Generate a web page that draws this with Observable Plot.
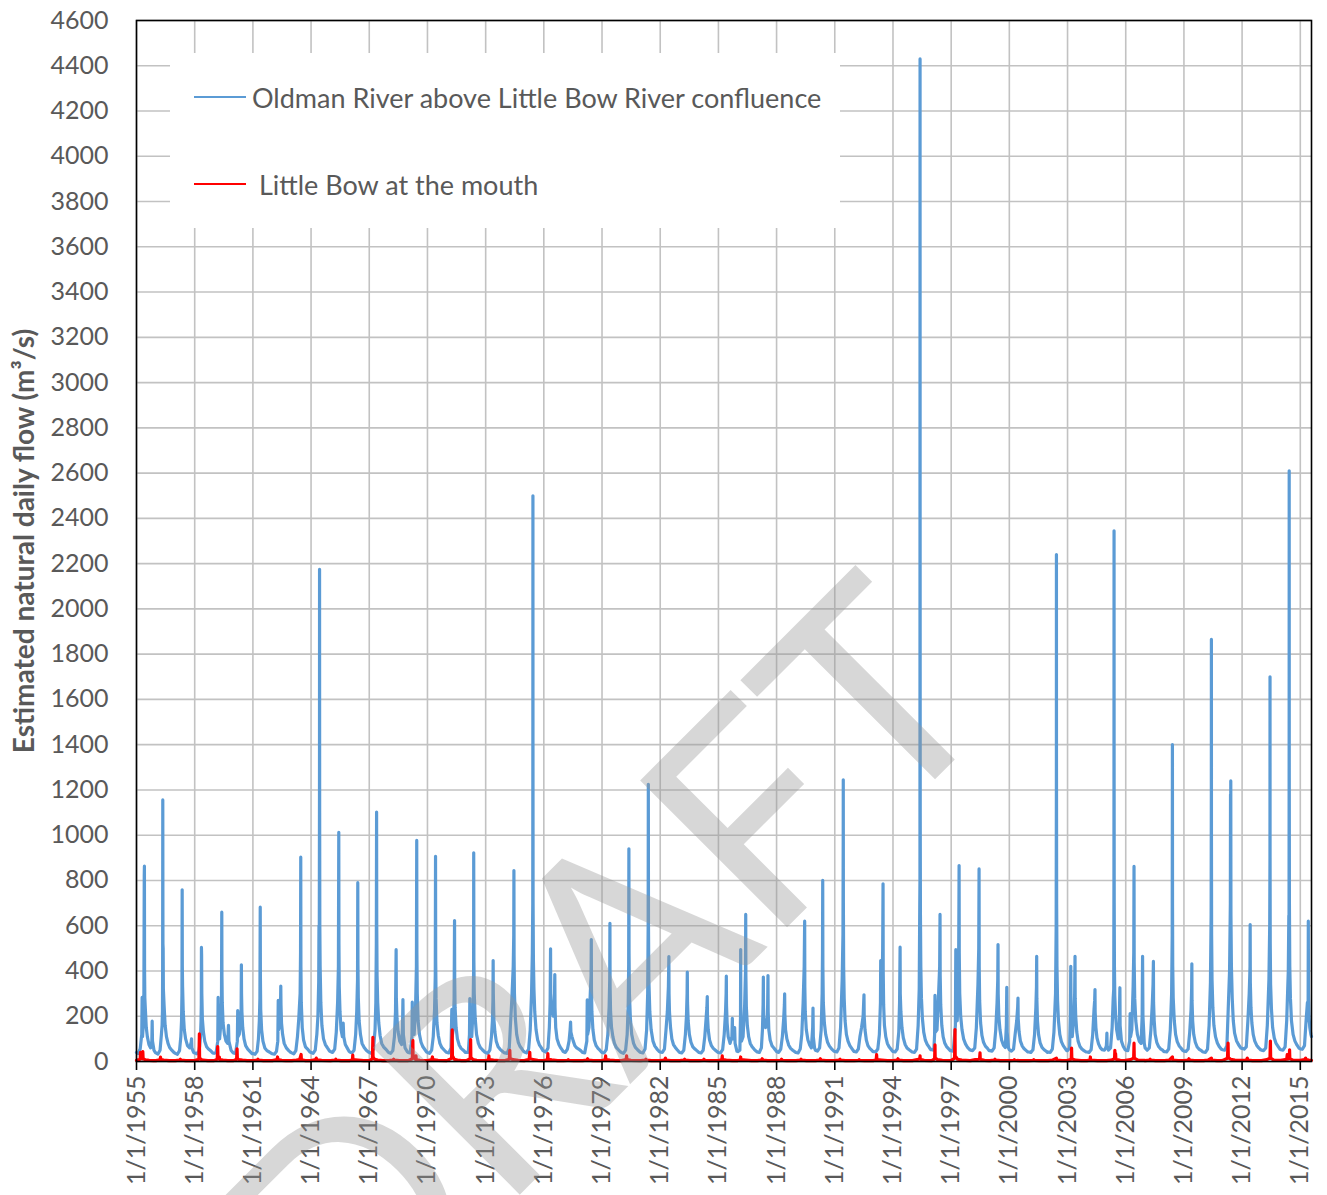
<!DOCTYPE html>
<html>
<head>
<meta charset="utf-8">
<script src="https://cdn.jsdelivr.net/npm/d3@7"></script>
<script src="https://cdn.jsdelivr.net/npm/@observablehq/plot@0.6"></script>
<style>
  html, body { margin: 0; padding: 0; background: #fff; }
  #wrap { position: relative; width: 1327px; height: 1195px; overflow: hidden; font-family: Lato, "Open Sans", sans-serif; }
  #legend { position: absolute; left: 170px; top: 53px; width: 670px; height: 175px; background: #fff; }
  .lg-item { position: absolute; left: 24px; height: 30px; display: flex; align-items: center; color: #595959; font-size: 27px; white-space: nowrap; }
  .lg-swatch { width: 52px; height: 2.5px; margin-right: 6px; }
  #watermark { position: absolute; left: 596px; top: 960px; transform: translate(-50%, -50%) rotate(-45deg); font-size: 290px; color: rgba(150,150,150,0.38); font-family: Lato, sans-serif; line-height: 1; pointer-events: none; white-space: nowrap; }
</style>
</head>
<body>
<div id="wrap"></div>
<script>
// ---------------- DATA ----------------
const yTitle = "Estimated natural daily flow (m³/s)";
const seriesNames = ["Oldman River above Little Bow River confluence", "Little Bow at the mouth"];
const seriesColors = ["#5b9bd5", "#ff0000"];
const yTicks = [0,200,400,600,800,1000,1200,1400,1600,1800,2000,2200,2400,2600,2800,3000,3200,3400,3600,3800,4000,4200,4400,4600];
const tickYears = [1955,1958,1961,1964,1967,1970,1973,1976,1979,1982,1985,1988,1991,1994,1997,2000,2003,2006,2009,2012,2015];

// Oldman River (m3/s): per year, "dayOfYear:flow" pairs
const oldman1950s = [
 [1955,"1:40 30:35 70:55 100:120 107:283 115:110 128:160 140:300 147:820 150:863 153:400 158:280 168:230 185:150 205:110 235:75 265:60 290:90 296:178 302:90 330:50 355:40"],
 [1956,"1:38 40:33 80:50 105:120 118:160 125:225 128:400 131:1156 134:520 138:500 142:320 155:250 175:160 200:110 230:80 260:62 300:50 340:40"],
 [1957,"1:36 40:32 80:48 105:110 118:180 126:300 130:759 133:420 138:330 150:220 170:140 195:100 230:70 270:60 300:85 306:100 312:60 345:40"],
 [1958,"1:38 40:34 80:45 95:70 110:110 120:180 125:250 128:504 131:470 135:300 145:190 165:130 190:90 225:65 260:55 300:48 340:38"],
 [1959,"1:36 40:40 70:90 77:283 84:110 105:100 125:160 140:260 146:660 149:380 155:260 170:170 195:120 225:90 255:80 265:120 272:160 280:90 320:50 355:40"]
];
const oldman1960s = [
 [1960,"1:38 40:35 74:90 81:225 88:110 110:120 130:170 145:230 150:427 153:300 160:220 175:150 200:100 230:70 270:55 310:45 350:35"],
 [1961,"1:35 40:32 80:45 105:100 122:180 133:280 139:682 142:380 148:230 165:140 190:90 225:60 265:48 310:42 350:36"],
 [1962,"1:34 40:32 80:45 105:90 113:270 120:140 140:170 155:230 161:333 165:250 175:170 195:120 225:80 265:60 310:48 350:40"],
 [1963,"1:38 40:34 80:48 110:110 135:190 160:300 168:480 172:903 175:420 182:260 200:150 225:95 260:65 300:55 345:42"],
 [1964,"1:40 40:36 80:50 110:120 130:200 145:350 150:600 156:520 160:1200 161:2175 163:1100 166:600 172:420 185:260 205:160 235:100 270:75 310:60 350:46"],
 [1965,"1:44 40:40 80:55 110:130 135:260 150:420 157:1013 160:520 166:330 180:220 200:140 225:110 240:170 250:110 280:75 320:58 350:45"],
 [1966,"1:42 40:38 80:50 110:120 130:220 145:360 150:790 153:430 160:280 175:180 200:120 230:80 270:62 310:50 350:42"],
 [1967,"1:40 40:36 80:55 110:140 125:260 134:520 139:1102 142:600 148:380 160:260 180:170 205:115 235:80 270:65 310:55 350:44"],
 [1968,"1:40 40:36 80:48 110:110 130:220 142:494 146:280 158:190 180:130 210:90 245:75 262:150 270:274 278:120 310:60 350:44"],
 [1969,"1:40 40:38 74:110 80:262 88:120 115:120 140:220 158:420 164:977 167:480 174:300 190:180 215:120 245:85 280:65 320:52 350:42"]
];
const oldman1970s = [
 [1970,"1:40 40:36 80:50 110:110 135:230 148:380 153:907 156:450 163:280 180:170 205:115 235:80 270:62 310:52 350:42"],
 [1971,"1:40 40:38 80:60 95:230 102:110 120:140 138:280 146:623 149:360 156:240 175:150 200:100 235:72 270:58 310:50 350:40"],
 [1972,"1:40 40:40 62:120 69:278 76:130 105:110 130:230 140:400 142:922 145:450 152:300 170:190 195:120 230:80 265:62 305:52 350:42"],
 [1973,"1:40 40:36 80:50 110:110 128:180 138:270 142:446 145:300 155:190 175:130 200:90 235:65 270:55 310:46 350:38"],
 [1974,"1:38 40:36 80:60 100:150 130:280 155:420 165:560 168:844 171:470 178:300 195:190 220:120 250:85 285:66 320:55 350:45"],
 [1975,"1:42 40:38 80:55 110:140 135:300 150:480 158:700 160:1500 161:2500 162:1400 164:700 170:450 180:320 195:220 220:140 250:95 285:72 320:60 350:48"],
 [1976,"1:46 40:42 80:60 105:150 120:260 128:498 131:300 150:230 180:200 200:260 208:384 212:240 225:150 250:100 285:75 320:60 350:50"],
 [1977,"1:44 40:40 80:55 110:90 130:140 139:174 145:130 165:110 190:90 220:70 255:60 290:55 330:48 355:42"],
 [1978,"1:40 40:38 80:90 88:272 95:120 120:150 145:300 160:380 164:539 167:320 175:220 195:140 220:95 255:70 290:58 325:50 355:42"],
 [1979,"1:40 40:38 80:52 110:120 135:240 146:360 150:611 153:330 162:220 180:150 205:110 235:80 270:62 310:52 350:42"]
];
const oldman1980s = [
 [1980,"1:40 40:36 80:50 110:120 130:260 138:430 142:940 145:480 152:300 170:190 195:120 230:80 265:62 305:52 350:42"],
 [1981,"1:40 40:38 80:55 110:140 130:300 139:600 142:1225 145:600 152:360 170:220 195:140 230:90 265:68 305:55 350:44"],
 [1982,"1:42 40:40 80:55 110:140 135:220 155:330 164:464 167:300 175:220 195:150 220:100 250:75 285:62 320:52 350:44"],
 [1983,"1:40 40:38 80:50 110:120 130:200 142:300 146:395 150:260 162:180 185:120 215:85 250:65 290:55 325:48 355:42"],
 [1984,"1:40 40:38 80:50 110:110 135:190 150:240 157:287 161:200 175:140 200:95 235:70 270:58 310:50 350:42"],
 [1985,"1:40 40:38 80:52 110:120 135:220 146:300 150:377 153:250 165:170 185:110 220:80 255:110 263:191 270:100 300:140 306:150 315:80 350:45"],
 [1986,"1:44 40:50 52:200 55:495 58:200 70:90 100:110 130:250 146:400 150:650 153:380 162:240 180:160 205:110 235:80 270:65 310:54 350:45"],
 [1987,"1:42 40:40 80:60 100:140 112:250 117:373 121:200 140:170 160:150 185:160 198:250 204:380 208:220 220:140 245:95 280:70 320:58 355:48"],
 [1988,"1:44 40:40 80:55 110:110 135:190 148:250 153:299 157:210 170:140 195:100 230:72 265:58 305:50 350:42"],
 [1989,"1:40 40:38 80:55 110:120 135:260 155:420 164:620 167:330 175:220 195:140 225:95 260:72 290:60 315:150 321:236 327:110 350:60"]
];
const oldman1990s = [
 [1990,"1:50 40:46 80:60 110:140 128:300 135:480 139:800 142:420 150:260 170:170 195:120 230:85 265:68 305:56 350:46"],
 [1991,"1:44 40:42 80:60 110:150 140:360 155:560 160:1000 161:1245 163:700 168:420 178:280 195:180 220:120 250:90 285:70 320:58 350:48"],
 [1992,"1:44 40:42 80:55 110:110 140:150 170:200 186:295 190:200 205:140 230:95 260:70 295:58 330:50 355:44"],
 [1993,"1:44 40:42 80:55 110:120 130:260 135:446 140:260 160:300 172:500 179:785 182:400 190:250 205:160 230:110 260:80 295:64 330:54 355:46"],
 [1994,"1:44 40:42 80:55 110:130 125:260 135:505 138:300 150:220 170:150 195:105 230:75 265:60 305:52 350:44"],
 [1995,"1:42 40:40 80:55 110:160 130:320 140:680 144:800 146:4430 147:2400 149:1100 153:650 160:420 172:280 190:190 215:130 245:95 280:76 320:62 350:52"],
 [1996,"1:52 40:50 55:120 62:292 70:130 100:140 130:300 150:420 157:650 160:380 170:250 190:160 215:110 245:82 280:66 320:56 350:48"],
 [1997,"1:48 40:46 80:160 88:494 95:200 115:180 140:380 147:700 150:866 153:480 162:300 180:200 205:140 235:100 270:78 310:62 350:52"],
 [1998,"1:50 40:48 80:60 110:150 140:340 155:500 161:851 164:420 172:270 190:170 215:115 245:85 280:68 320:58 350:48"],
 [1999,"1:48 40:46 80:60 110:140 135:260 148:360 153:517 156:300 168:200 190:140 220:95 255:72 290:62 310:160 318:328 325:130 350:60"]
];
const oldman2000s = [
 [2000,"1:52 40:46 80:55 110:120 140:180 158:240 164:280 168:190 185:130 210:90 245:68 280:56 320:48 350:42"],
 [2001,"1:42 40:40 80:52 110:120 135:240 146:330 150:465 153:280 165:180 185:120 215:82 250:62 290:52 330:45 355:40"],
 [2002,"1:42 40:40 80:55 110:130 140:300 152:600 156:1200 157:2240 158:1300 161:700 167:420 178:270 195:180 220:120 250:88 285:70 320:58 350:48"],
 [2003,"1:48 40:60 55:200 62:421 68:180 90:110 120:200 135:300 142:465 145:280 155:200 175:130 200:90 235:66 270:55 310:48 350:42"],
 [2004,"1:42 40:40 80:52 110:120 135:230 147:270 153:318 156:220 170:150 190:105 220:78 255:60 290:52 330:50 355:60"],
 [2005,"1:70 8:100 11:125 16:70 40:50 80:60 110:150 130:280 140:320 144:800 146:2345 147:1300 149:700 153:420 160:290 175:200 195:140 225:100 245:150 252:280 256:326 260:160 285:90 320:66 350:54"],
 [2006,"1:50 40:48 75:90 84:212 92:110 115:140 140:330 152:480 157:862 160:440 170:280 190:180 220:120 255:90 290:80 310:200 318:465 325:200 350:80"],
 [2007,"1:60 40:50 80:60 110:140 135:250 150:340 157:442 160:260 172:180 190:120 220:85 255:66 290:56 330:50 355:44"],
 [2008,"1:44 40:42 80:55 110:140 135:300 146:560 150:1400 152:700 156:420 165:280 185:180 210:120 240:88 275:70 315:58 350:48"],
 [2009,"1:46 40:44 80:55 110:130 135:230 146:320 150:432 153:270 165:180 185:120 215:85 250:64 290:54 330:48 355:42"]
];
const oldman2010s = [
 [2010,"1:42 40:40 80:55 110:160 135:350 148:650 152:1200 153:1865 154:1000 157:560 165:360 180:240 200:160 230:110 265:82 300:66 340:54"],
 [2011,"1:52 40:50 80:70 100:200 130:400 145:700 148:1180 150:700 153:1240 156:650 165:420 180:280 200:180 225:125 260:92 300:74 340:60"],
 [2012,"1:58 40:55 80:65 110:180 135:300 145:375 150:420 153:605 156:350 168:240 185:170 210:120 240:90 275:72 315:60 350:52"],
 [2013,"1:50 40:48 80:60 110:160 140:360 155:600 160:900 161:1700 162:900 165:520 172:340 188:230 210:150 240:105 275:80 315:66 350:54"],
 [2014,"1:52 40:50 80:65 110:180 140:400 150:645 154:500 156:1400 157:2610 158:1300 161:700 168:420 180:280 200:180 230:120 265:90 305:72 345:58"],
 [2015,"1:56 40:54 80:70 110:180 135:260 148:180 152:620 155:300 165:200 180:150 200:120 212:110"]
];

// Little Bow at the mouth (m3/s)
const littleBow1950s = [
 [1955,"1:5 70:10 75:40 80:15 110:12 120:44 126:12 170:7 240:5 320:4 355:4"],
 [1956,"1:4 80:8 88:19 95:8 150:6 250:4 350:4"],
 [1957,"1:4 80:6 95:10 110:6 200:4 350:4"],
 [1958,"1:4 80:10 89:122 93:20 110:10 160:6 250:4 350:4"],
 [1959,"1:4 60:10 69:66 74:15 95:10 100:20 105:8 170:6 260:4 350:4"]
];
const littleBow1960s = [
 [1960,"1:4 60:10 69:56 74:14 100:8 170:6 260:4 350:4"],
 [1961,"1:4 80:6 95:10 110:6 200:4 350:4"],
 [1962,"1:4 90:8 100:20 106:8 180:5 260:4 350:4"],
 [1963,"1:4 90:6 150:8 179:31 184:8 260:4 350:4"],
 [1964,"1:4 90:8 100:15 110:7 200:5 350:4"],
 [1965,"1:4 90:6 100:10 110:6 200:4 350:4"],
 [1966,"1:4 50:8 55:28 60:8 150:6 260:4 350:4"],
 [1967,"1:4 60:12 69:107 73:20 100:10 160:6 260:4 350:4"],
 [1968,"1:4 80:6 95:10 110:6 200:4 350:4"],
 [1969,"1:4 80:12 91:93 95:20 140:10 150:25 155:8 220:5 350:4"]
];
const littleBow1970s = [
 [1970,"1:4 80:8 95:20 100:8 200:5 350:4"],
 [1971,"1:4 90:14 102:140 106:25 140:10 200:6 280:4 350:4"],
 [1972,"1:4 75:12 84:97 88:18 130:8 200:5 350:4"],
 [1973,"1:4 55:8 62:25 67:8 150:6 260:4 350:4"],
 [1974,"1:4 80:10 91:49 96:14 150:8 250:5 350:4"],
 [1975,"1:4 90:10 102:41 107:12 165:9 250:5 350:4"],
 [1976,"1:4 70:8 77:35 82:10 150:7 260:4 350:4"],
 [1977,"1:4 80:5 95:8 110:5 200:4 350:4"],
 [1978,"1:4 80:6 95:12 110:6 200:4 350:4"],
 [1979,"1:4 60:8 69:25 74:8 150:6 260:4 350:4"]
];
const littleBow1980s = [
 [1980,"1:4 90:8 99:25 104:8 180:5 350:4"],
 [1981,"1:4 80:6 95:10 110:6 200:4 350:4"],
 [1982,"1:4 80:6 100:15 110:6 200:4 350:4"],
 [1983,"1:4 80:6 95:10 110:6 200:4 350:4"],
 [1984,"1:4 80:5 95:10 110:5 200:4 350:4"],
 [1985,"1:4 65:8 73:25 78:8 150:6 260:4 350:4"],
 [1986,"1:4 50:8 55:20 60:8 150:6 260:4 350:4"],
 [1987,"1:4 80:6 95:12 110:6 200:4 350:4"],
 [1988,"1:4 80:5 95:10 110:5 200:4 350:4"],
 [1989,"1:4 80:6 95:10 110:6 200:4 350:4"]
];
const littleBow1990s = [
 [1990,"1:4 80:6 95:12 110:6 200:4 350:4"],
 [1991,"1:4 80:6 100:10 110:6 200:4 350:4"],
 [1992,"1:4 80:5 95:8 110:5 200:4 350:4"],
 [1993,"1:4 50:8 58:30 63:8 150:6 260:4 350:4"],
 [1994,"1:4 80:6 95:12 110:6 200:4 350:4"],
 [1995,"1:4 90:8 140:12 146:25 150:10 220:5 350:4"],
 [1996,"1:4 55:12 62:74 66:16 110:8 200:5 350:4"],
 [1997,"1:5 65:14 73:141 77:25 120:10 200:6 350:4"],
 [1998,"1:4 90:8 170:10 179:38 184:10 260:5 350:4"],
 [1999,"1:4 80:6 95:10 110:6 200:4 350:4"]
];
const littleBow2000s = [
 [2000,"1:4 80:5 95:8 110:5 200:4 350:4"],
 [2001,"1:4 80:5 95:8 110:5 200:4 350:4"],
 [2002,"1:4 80:6 157:15 162:6 260:4 350:4"],
 [2003,"1:4 70:10 77:59 82:12 150:6 260:4 350:4"],
 [2004,"1:4 60:6 66:20 71:6 200:4 350:4"],
 [2005,"1:4 90:6 155:12 161:49 166:15 175:35 180:10 260:5 350:4"],
 [2006,"1:5 90:8 150:15 157:81 162:15 230:6 350:5"],
 [2007,"1:4 80:6 95:10 110:6 200:4 350:4"],
 [2008,"1:4 90:6 150:20 155:6 260:4 350:4"],
 [2009,"1:4 80:6 95:12 110:6 200:4 350:4"]
];
const littleBow2010s = [
 [2010,"1:4 90:6 153:15 158:6 260:4 350:4"],
 [2011,"1:5 90:14 102:81 107:18 150:10 230:6 350:5"],
 [2012,"1:5 80:6 100:15 110:6 200:4 350:4"],
 [2013,"1:4 100:8 160:15 168:90 173:15 230:6 350:5"],
 [2014,"1:5 110:10 120:30 125:10 158:14 164:52 169:12 230:6 350:5"],
 [2015,"1:5 80:8 100:15 110:8 160:6 212:5"]
];

// ---------------- BUILD ----------------
function expand(rows) {
  const out = [];
  for (const [yr, str] of rows) {
    for (const pair of str.trim().split(/\s+/)) {
      const [d, v] = pair.split(":").map(Number);
      out.push({date: new Date(Date.UTC(yr, 0, d)), value: v});
    }
  }
  return out;
}
const oldman = expand([...oldman1950s, ...oldman1960s, ...oldman1970s, ...oldman1980s, ...oldman1990s, ...oldman2000s, ...oldman2010s]);
const littleBow = expand([...littleBow1950s, ...littleBow1960s, ...littleBow1970s, ...littleBow1980s, ...littleBow1990s, ...littleBow2000s, ...littleBow2010s]);
const xTicks = tickYears.map(y => new Date(Date.UTC(y, 0, 1)));

const chart = Plot.plot({
  width: 1327,
  height: 1195,
  marginLeft: 136,
  marginRight: 16,
  marginTop: 20,
  marginBottom: 134,
  style: {fontFamily: "Lato, 'Open Sans', sans-serif", background: "white", overflow: "visible"},
  x: {type: "utc", domain: [new Date(Date.UTC(1955, 0, 1)), new Date(Date.UTC(2015, 6, 31))]},
  y: {domain: [0, 4600]},
  marks: [
    Plot.ruleX(xTicks, {stroke: "#c2c2c2", strokeWidth: 1.6}),
    Plot.ruleY(yTicks, {stroke: "#c2c2c2", strokeWidth: 1.6}),
    Plot.line(oldman, {x: "date", y: "value", stroke: seriesColors[0], strokeWidth: 3.2, strokeLinejoin: "round"}),
    Plot.line(littleBow, {x: "date", y: "value", stroke: seriesColors[1], strokeWidth: 3.2, strokeLinejoin: "round"}),
    Plot.frame({stroke: "black", strokeWidth: 1.6}),
    Plot.axisX(xTicks, {
      tickFormat: d => `1/1/${d.getUTCFullYear()}`,
      tickRotate: -90, tickSize: 9, tickPadding: 5,
      fontSize: 25, stroke: "black", strokeWidth: 1.6, fill: "#595959", label: null
    }),
    Plot.axisY(yTicks, {tickSize: 0, tickPadding: 28, fontSize: 25, fill: "#595959", label: null, tickFormat: d => String(d)}),
    Plot.text([yTitle], {frameAnchor: "left", dx: -111, rotate: -90, text: d => d, fontSize: 28, fontWeight: "bold", fill: "#595959", textAnchor: "middle"})
  ]
});

const wrap = document.getElementById("wrap");
wrap.appendChild(chart);

const legend = document.createElement("div");
legend.id = "legend";
seriesNames.forEach((name, i) => {
  const item = document.createElement("div");
  item.className = "lg-item";
  item.style.top = (i === 0 ? 97 - 53 - 15 : 184 - 53 - 15) + "px";
  const sw = document.createElement("div");
  sw.className = "lg-swatch";
  sw.style.background = seriesColors[i];
  const tx = document.createElement("span");
  tx.textContent = (i === 1 ? "\u00a0" : "") + name;
  item.appendChild(sw);
  item.appendChild(tx);
  legend.appendChild(item);
});
wrap.appendChild(legend);

const wm = document.createElement("div");
wm.id = "watermark";
wm.textContent = "DRAFT";
wrap.appendChild(wm);
</script>
</body>
</html>
